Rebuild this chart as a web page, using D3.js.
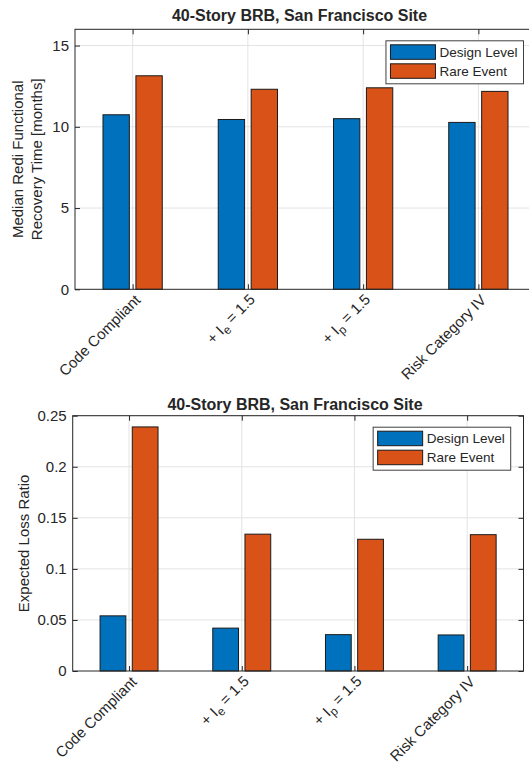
<!DOCTYPE html>
<html>
<head>
<meta charset="utf-8">
<script src="https://cdn.jsdelivr.net/npm/d3@7"></script>
<style>
  body { margin: 0; background: #fff; }
  svg text { font-family: "Liberation Sans", Arial, Helvetica, sans-serif; fill: #262626; }
</style>
</head>
<body>
<svg id="chart" width="529" height="762"></svg>
<script>
// Scenario labels ("_x" marks a subscript character)
const categories = ["Code Compliant", "+ I_e = 1.5", "+ I_p = 1.5", "Risk Category IV"];
const seriesNames = ["Design Level", "Rare Event"];
const seriesColors = ["#0072BD", "#D95319"];
const chartTitle = "40-Story BRB, San Francisco Site";

// Median REDi functional recovery time [months]
const recoveryDesign = [10.74, 10.45, 10.50, 10.27];
const recoveryRare = [13.14, 12.31, 12.40, 12.18];
const recoveryTicks = [0, 5, 10, 15];

// Expected loss ratio
const lossDesign = [0.054, 0.042, 0.0356, 0.0353];
const lossRare = [0.239, 0.134, 0.129, 0.1335];
const lossTicks = [0, 0.05, 0.1, 0.15, 0.2, 0.25];

const svg = d3.select("#chart");
const fmt = d => String(+d.toFixed(3));

function drawPanel(o) {
  const g = svg.append("g");
  const x = d3.scaleLinear().domain([0.5, categories.length + 0.5]).range([o.left, o.right]);
  const y = d3.scaleLinear().domain([0, o.yMax]).range([o.bottom, o.top]);

  // grid
  g.append("g").selectAll("line.gy").data(o.ticks.slice(1)).join("line")
    .attr("x1", o.left).attr("x2", o.right)
    .attr("y1", d => y(d)).attr("y2", d => y(d))
    .attr("stroke", "#e3e3e3").attr("stroke-width", 1);
  g.append("g").selectAll("line.gx").data(d3.range(1, categories.length + 1)).join("line")
    .attr("x1", d => x(d)).attr("x2", d => x(d))
    .attr("y1", o.top).attr("y2", o.bottom)
    .attr("stroke", "#e3e3e3").attr("stroke-width", 1);

  // grouped bars
  const groupW = 2 / 3.5;
  const barW = groupW / 2 * 0.8;
  const offsets = [-groupW / 4, groupW / 4];
  o.series.forEach((vals, s) => {
    g.append("g").selectAll("rect").data(vals).join("rect")
      .attr("x", (d, i) => x(i + 1 + offsets[s] - barW / 2))
      .attr("width", x(1 + barW) - x(1))
      .attr("y", d => y(d))
      .attr("height", d => y(0) - y(d))
      .attr("fill", seriesColors[s])
      .attr("stroke", "#1a1a1a").attr("stroke-width", 1);
  });

  // axes (inward ticks on all four sides)
  const yl = g.append("g").attr("transform", `translate(${o.left},0)`)
    .call(d3.axisLeft(y).tickValues(o.ticks).tickSize(-5).tickSizeOuter(0).tickPadding(6).tickFormat(fmt));
  const yr = g.append("g").attr("transform", `translate(${o.right},0)`)
    .call(d3.axisRight(y).tickValues(o.ticks).tickSize(-5).tickSizeOuter(0).tickFormat(""));
  const xb = g.append("g").attr("transform", `translate(0,${o.bottom})`)
    .call(d3.axisBottom(x).tickValues(d3.range(1, categories.length + 1)).tickSize(-5).tickSizeOuter(0).tickFormat(""));
  const xt = g.append("g").attr("transform", `translate(0,${o.top})`)
    .call(d3.axisTop(x).tickValues(d3.range(1, categories.length + 1)).tickSize(-5).tickSizeOuter(0).tickFormat(""));
  [yl, yr, xb, xt].forEach(a => {
    a.select(".domain").remove();
    a.selectAll(".tick line").attr("stroke", "#262626");
  });
  yl.selectAll(".tick text").style("font-size", "15px").attr("fill", "#262626");

  // axes box
  g.append("rect").attr("x", o.left).attr("y", o.top)
    .attr("width", o.right - o.left).attr("height", o.bottom - o.top)
    .attr("fill", "none").attr("stroke", "#262626").attr("stroke-width", 1);

  // rotated category labels
  categories.forEach((c, i) => {
    const t = g.append("text")
      .attr("transform", `translate(${x(i + 1) + 5},${o.bottom + 8}) rotate(-45)`)
      .attr("text-anchor", "end")
      .attr("dy", "0.35em")
      .style("font-size", "15px");
    const m = c.match(/^(.*)_(.)(.*)$/);
    if (m) {
      t.append("tspan").text(m[1]);
      t.append("tspan").attr("dy", "0.3em").style("font-size", "12px").text(m[2]);
      t.append("tspan").attr("dy", "-0.3em").text(m[3]);
    } else {
      t.text(c);
    }
  });

  // y label
  o.ylabel.forEach((line, k) => {
    g.append("text")
      .attr("transform", `translate(${o.ylabelX[k]},${(o.top + o.bottom) / 2}) rotate(-90)`)
      .attr("text-anchor", "middle")
      .style("font-size", "15px")
      .text(line);
  });

  // title
  g.append("text").attr("x", o.titleX).attr("y", o.titleY)
    .attr("text-anchor", "middle")
    .style("font-size", "16px").style("font-weight", "bold")
    .attr("fill", "#000")
    .text(chartTitle);

  // legend
  const lg = g.append("g");
  const items = lg.selectAll("g").data(seriesNames).join("g");
  const sw = 45, sh = 14.5, rowH = 19, padL = 4.5, padT = 4;
  const texts = items.append("text")
    .attr("x", padL + sw + 4)
    .attr("y", (d, k) => padT + k * rowH + sh / 2 + 4.5)
    .style("font-size", "13.5px")
    .text(d => d);
  const tw = d3.max(texts.nodes(), n => n.getComputedTextLength());
  const lw = padL + sw + 4 + tw + 6;
  const lh = padT * 2 + rowH + sh + 1.5;
  lg.insert("rect", ":first-child")
    .attr("width", lw).attr("height", lh)
    .attr("fill", "#fff").attr("stroke", "#404040").attr("stroke-width", 1);
  items.insert("rect", "text")
    .attr("x", padL).attr("y", (d, k) => padT + k * rowH)
    .attr("width", sw).attr("height", sh)
    .attr("fill", (d, k) => seriesColors[k])
    .attr("stroke", "#1a1a1a").attr("stroke-width", 1);
  lg.attr("transform", `translate(${o.legendRight - lw},${o.top + 11.5})`);
}

drawPanel({
  left: 75, right: 536, top: 29.3, bottom: 289.3, yMax: 16,
  ticks: recoveryTicks, series: [recoveryDesign, recoveryRare],
  ylabel: ["Median Redi Functional", "Recovery Time [months]"], ylabelX: [23, 42],
  titleX: 299.5, titleY: 21, legendRight: 523.5
});

drawPanel({
  left: 72.7, right: 523.5, top: 415.7, bottom: 671, yMax: 0.25,
  ticks: lossTicks, series: [lossDesign, lossRare],
  ylabel: ["Expected Loss Ratio"], ylabelX: [28.5],
  titleX: 295, titleY: 409.5, legendRight: 510.7
});
</script>
</body>
</html>
